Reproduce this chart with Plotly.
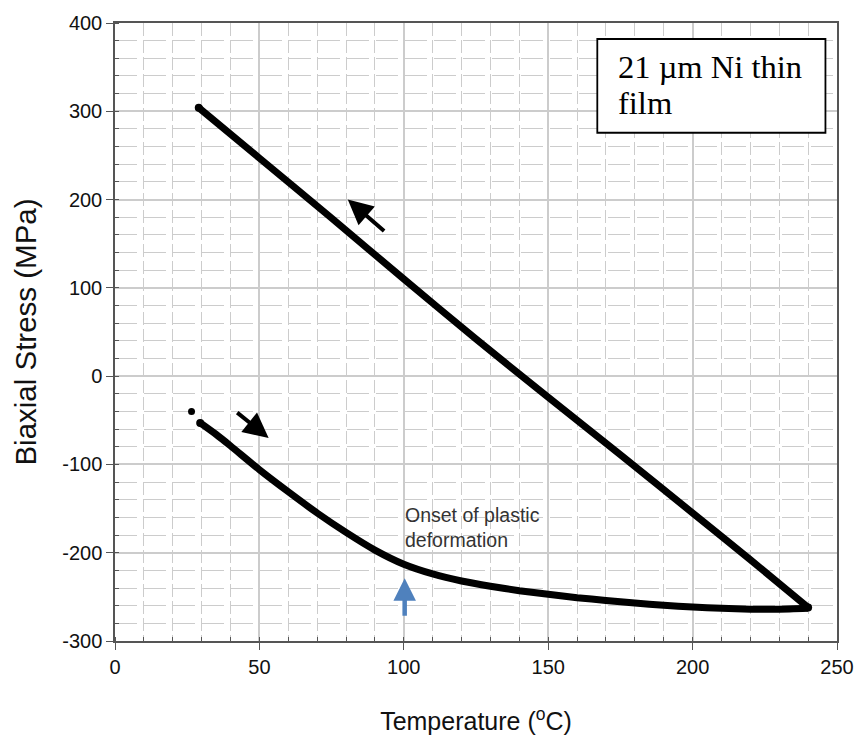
import plotly.graph_objects as go

# Cooling branch (upper line), temperature in °C, biaxial stress in MPa
temp_cool = [240, 220, 200, 175, 150, 125, 100, 75, 50, 29]
stress_cool = [-262, -208, -155, -89, -24, 42, 110, 179, 247, 304]

# Heating branch (lower curve)
temp_heat = [29.5, 35, 40, 50, 60, 70, 80, 90, 100, 110, 120, 130, 140, 150,
             160, 170, 180, 190, 200, 210, 220, 230, 240]
stress_heat = [-53, -66, -79, -106, -131, -155, -177, -197, -213, -224, -232, -238, -243, -247,
               -251, -254, -257, -259.5, -261.5, -263, -264, -264, -263]

# First recorded point, slightly detached from the heating curve
temp_first = [26.5]
stress_first = [-40]

x_ticks = [0, 50, 100, 150, 200, 250]
y_ticks = [-300, -200, -100, 0, 100, 200, 300, 400]
y_tick_text = ["-300", "-200", "-100", "0", "100", "200", "300", "400"]

sans = "Liberation Sans, Arial, sans-serif"
serif = "Liberation Serif, Times New Roman, serif"

fig = go.Figure()

fig.add_trace(go.Scatter(
    x=temp_heat, y=stress_heat, mode="lines",
    line=dict(color="black", width=7, shape="spline", smoothing=0.6),
    showlegend=False, hoverinfo="skip"))
fig.add_trace(go.Scatter(
    x=temp_cool, y=stress_cool, mode="lines",
    line=dict(color="black", width=7, shape="spline", smoothing=0.4),
    showlegend=False, hoverinfo="skip"))
fig.add_trace(go.Scatter(
    x=[temp_cool[-1], temp_cool[0], temp_heat[0]],
    y=[stress_cool[-1], stress_cool[0], stress_heat[0]],
    mode="markers", marker=dict(color="black", size=8),
    showlegend=False, hoverinfo="skip"))
fig.add_trace(go.Scatter(
    x=temp_first, y=stress_first, mode="markers",
    marker=dict(color="black", size=7),
    showlegend=False, hoverinfo="skip"))

grid_c = "#cccccc"
axis_c = "#555555"

fig.update_xaxes(
    range=[0, 250], tickvals=x_ticks, ticks="outside", ticklen=7, tickwidth=1.3,
    tickcolor=axis_c, showline=True, linecolor=axis_c, linewidth=1.5, mirror=True,
    showgrid=True, gridcolor=grid_c, gridwidth=1.5, zeroline=False,
    tickfont=dict(family=sans, size=20, color="#111"),
    minor=dict(dtick=10, showgrid=True, gridcolor=grid_c, gridwidth=1.4,
               griddash="13px,4px", ticks="inside", ticklen=4, tickcolor=axis_c),
    title=dict(text="Temperature (<sup>o</sup>C)",
               font=dict(family=sans, size=25, color="#111"), standoff=36),
)
fig.update_yaxes(
    range=[-300, 400], tickvals=y_ticks, ticktext=y_tick_text, ticks="outside",
    ticklen=7, tickwidth=1.3,
    tickcolor=axis_c, showline=True, linecolor=axis_c, linewidth=1.5, mirror=True,
    showgrid=True, gridcolor=grid_c, gridwidth=1.5, zeroline=False,
    tickfont=dict(family=sans, size=20, color="#111"),
    minor=dict(dtick=20, showgrid=True, gridcolor=grid_c, gridwidth=1.4,
               griddash="22px,7px", ticks="inside", ticklen=4, tickcolor=axis_c),
    title=dict(text="Biaxial Stress (MPa)",
               font=dict(family=sans, size=29.5, color="#111"), standoff=17),
)

# Direction arrows along the heating and cooling branches
arrows = [
    dict(tail=(93.7, 163), head=(80.6, 200)),
    dict(tail=(41.8, -40), head=(53.2, -70)),
]
for a in arrows:
    fig.add_annotation(x=a["head"][0], y=a["head"][1], ax=a["tail"][0], ay=a["tail"][1],
                       xref="x", yref="y", axref="x", ayref="y", text="", showarrow=True,
                       arrowhead=2, arrowsize=1.25, arrowwidth=4, arrowcolor="black")

# Onset of plastic deformation marker
fig.add_annotation(x=100.3, y=-229, ax=100.3, ay=-273, xref="x", yref="y", axref="x",
                   ayref="y", text="", showarrow=True, arrowhead=2, arrowsize=1.0,
                   arrowwidth=4.5, arrowcolor="#4f81bd")
fig.add_annotation(x=99.8, y=-172, xref="x", yref="y", xanchor="left", yanchor="middle",
                   text="Onset of plastic<br>deformation", showarrow=False, align="left",
                   font=dict(family=sans, size=19.5, color="#333"))

# Sample label box
fig.add_shape(type="rect", xref="x", yref="y", x0=167.0, x1=246.0, y0=275.7, y1=381.9,
              line=dict(color="black", width=1.8), fillcolor="white", layer="above")
fig.add_annotation(x=173.5, y=350, xref="x", yref="y", xanchor="left", yanchor="middle",
                   text="21 µm Ni thin", showarrow=False,
                   font=dict(family=serif, size=32.5, color="black"))
fig.add_annotation(x=173.5, y=309, xref="x", yref="y", xanchor="left", yanchor="middle",
                   text="film", showarrow=False,
                   font=dict(family=serif, size=32.5, color="black"))

fig.update_layout(
    width=866, height=751,
    margin=dict(l=115, r=21, t=22, b=110),
    plot_bgcolor="white", paper_bgcolor="white",
    showlegend=False,
)

fig.write_html("out.html")
